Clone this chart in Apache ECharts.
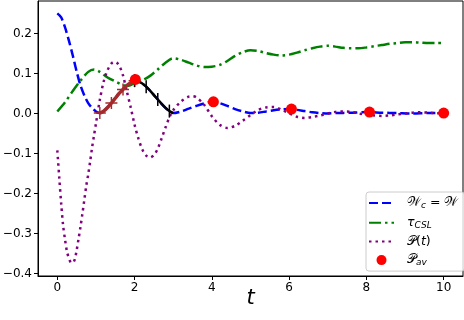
<!DOCTYPE html>
<html>
<head>
<meta charset="utf-8">
<script src="https://cdn.jsdelivr.net/npm/echarts@6/dist/echarts.min.js"></script>
<style>
  html, body { margin: 0; padding: 0; background: #fff; }
  #chart { width: 464px; height: 320px; }
</style>
</head>
<body>
<div id="chart"></div>
<script>
// W_c = W (blue dashed)
var wT = [0, 0.1, 0.2, 0.3, 0.4, 0.5, 0.6, 0.7, 0.8, 0.9, 1.0, 1.1, 1.2, 1.3, 1.4, 1.5, 1.6, 1.7, 1.8, 1.9, 2.0,
  2.1, 2.2, 2.3, 2.4, 2.5, 2.6, 2.7, 2.8, 2.9, 3.0, 3.2, 3.4, 3.6, 3.8, 4.0, 4.2, 4.4, 4.6, 4.8, 5.0,
  5.2, 5.4, 5.6, 5.8, 6.0, 6.2, 6.4, 6.6, 6.8, 7.0, 7.2, 7.6, 8.0, 8.4, 8.8, 9.2, 9.6, 10];
var wY = [0.25, 0.24, 0.215, 0.182, 0.145, 0.105, 0.07, 0.045, 0.026, 0.014, 0.005, 0.001, 0.006, 0.015, 0.026, 0.038, 0.05, 0.06, 0.07, 0.077, 0.082,
  0.08, 0.075, 0.067, 0.057, 0.046, 0.035, 0.024, 0.014, 0.006, 0.001, 0.005, 0.012, 0.019, 0.025, 0.029, 0.026, 0.019, 0.011, 0.005, 0.001,
  0.002, 0.005, 0.008, 0.01, 0.011, 0.009, 0.006, 0.003, 0.001, 0.0, 0.001, 0.002, 0.0035, 0.002, 0.001, 0.0, 0.001, 0.001];

// tau_CSL (green dash-dot)
var tauT = [0, 0.2, 0.4, 0.6, 0.8, 0.95, 1.1, 1.3, 1.5, 1.7, 1.8, 1.9, 2.0, 2.2, 2.4, 2.6, 2.8, 3.0, 3.2, 3.4, 3.6, 3.8, 4.0,
  4.2, 4.4, 4.6, 4.8, 5.0, 5.2, 5.4, 5.6, 5.8, 6.0, 6.2, 6.4, 6.6, 6.8, 7.0, 7.2, 7.4, 7.6, 7.8, 8.0,
  8.2, 8.4, 8.6, 8.8, 9.0, 9.2, 9.4, 9.6, 9.8, 10];
var tauY = [0.005, 0.028, 0.056, 0.082, 0.104, 0.11, 0.104, 0.09, 0.08, 0.071, 0.069, 0.071, 0.076, 0.083, 0.094, 0.11, 0.127, 0.138, 0.134, 0.127, 0.12, 0.116, 0.117,
  0.121, 0.131, 0.144, 0.153, 0.158, 0.156, 0.151, 0.147, 0.145, 0.147, 0.152, 0.158, 0.163, 0.167, 0.169, 0.167, 0.164, 0.163, 0.163, 0.165,
  0.168, 0.171, 0.174, 0.176, 0.178, 0.178, 0.177, 0.176, 0.176, 0.176];

// P(t) (purple dotted)
var pT = [0, 0.05, 0.1, 0.15, 0.2, 0.25, 0.3, 0.35, 0.4, 0.45, 0.5, 0.55, 0.6, 0.65, 0.7, 0.75, 0.8, 0.85, 0.9, 0.95, 1.0,
  1.1, 1.2, 1.3, 1.4, 1.47, 1.55, 1.62, 1.7, 1.8, 1.9, 2.0, 2.1, 2.2, 2.3, 2.4, 2.5, 2.6, 2.7, 2.8, 2.9, 3.0,
  3.2, 3.4, 3.5, 3.6, 3.8, 4.0, 4.2, 4.4, 4.6, 4.8, 5.0, 5.2, 5.4, 5.6, 5.8, 6.0, 6.2, 6.4, 6.6, 6.8, 7.0,
  7.2, 7.4, 7.6, 7.8, 8.0, 8.2, 8.4, 8.6, 8.8, 9.0, 9.2, 9.4, 9.6, 9.8, 10];
var pY = [-0.092, -0.16, -0.225, -0.28, -0.315, -0.345, -0.362, -0.372, -0.373, -0.365, -0.342, -0.313, -0.283, -0.25, -0.215, -0.18, -0.152, -0.12, -0.085, -0.055, -0.025,
  0.034, 0.08, 0.108, 0.125, 0.129, 0.126, 0.116, 0.095, 0.055, 0.015, -0.028, -0.063, -0.09, -0.105, -0.11, -0.104, -0.088, -0.062, -0.035, -0.01, 0.008,
  0.03, 0.042, 0.043, 0.04, 0.022, -0.007, -0.028, -0.036, -0.031, -0.018, -0.004, 0.009, 0.015, 0.016, 0.01, 0.0, -0.008, -0.011, -0.009, -0.005, 0.0,
  0.004, 0.005, 0.004, 0.0, -0.003, -0.005, -0.006, -0.005, -0.002, 0.0, 0.002, 0.003, 0.002, 0.001, 0.0];

// P_av (red dots)
var avT = [2.02, 4.04, 6.06, 8.08, 10.0];
var avY = [0.085, 0.029, 0.011, 0.0035, 0.001];

// highlighted segments on W
var brownT = [1.1, 1.2, 1.3, 1.4, 1.5, 1.6, 1.7, 1.8, 1.9, 2.0];
var brownY = [0.001, 0.006, 0.015, 0.026, 0.038, 0.05, 0.06, 0.07, 0.077, 0.082];
var blackT = [2.0, 2.1, 2.2, 2.3, 2.4, 2.5, 2.6, 2.7, 2.8, 2.9, 3.0];
var blackY = [0.082, 0.08, 0.075, 0.067, 0.057, 0.046, 0.035, 0.024, 0.014, 0.006, 0.001];

var xTicks = [0, 2, 4, 6, 8, 10];
var yTicks = [-0.4, -0.3, -0.2, -0.1, 0.0, 0.1, 0.2];

var plusPath = 'path://M0,4.4h10v1.2h-10z M4.4,0h1.2v10h-1.2z';
var barPath = 'path://M0,0h1v10h-1z';

function pairs(xs, ys) {
  return xs.map(function (x, i) { return [x, ys[i]]; });
}

var legendNames = {
  'W': '{cal|𝒲}{sub|c}{n| = }{cal|𝒲}',
  'tau': '{it|τ}{sub|CSL}',
  'P': '{cal|𝒫}{n|(}{it|t}{n|)}',
  'Pav': '{cal|𝒫}{sub|av}'
};

var chart = echarts.init(document.getElementById('chart'));

var option = {
  animation: false,
  grid: {
    left: 38, right: 1, top: 1, bottom: 44,
    outerBoundsMode: 'none',
    show: true, borderColor: '#000', borderWidth: 1, backgroundColor: 'transparent'
  },
  legend: {
    data: [
      { name: 'W', itemStyle: { opacity: 0 } },
      { name: 'tau', itemStyle: { opacity: 0 } },
      { name: 'P', itemStyle: { opacity: 0 } },
      { name: 'Pav' }
    ],
    orient: 'vertical',
    left: 366,
    top: 192,
    padding: [3.5, 6, 3.5, 2],
    itemWidth: 25,
    itemHeight: 10,
    itemGap: 4.7,
    backgroundColor: 'rgba(255,255,255,0.8)',
    borderColor: '#cccccc',
    borderWidth: 1,
    borderRadius: 3,
    formatter: function (name) { return legendNames[name]; },
    textStyle: {
      padding: [0, 0, 0, 8],
      rich: {
        cal: { fontFamily: 'DejaVu Sans', fontSize: 12.5, lineHeight: 14, color: '#000' },
        it: { fontFamily: 'DejaVu Sans', fontStyle: 'italic', fontSize: 12.5, lineHeight: 14, color: '#000' },
        n: { fontFamily: 'DejaVu Sans', fontSize: 12.5, lineHeight: 14, color: '#000' },
        sub: { fontFamily: 'DejaVu Sans', fontStyle: 'italic', fontSize: 9, lineHeight: 14, padding: [6, 0, 0, 0], color: '#000' }
      }
    }
  },
  xAxis: {
    type: 'value',
    min: -0.5,
    max: 10.5,
    name: 't',
    nameLocation: 'middle',
    nameGap: 12,
    nameMoveOverlap: false,
    nameTextStyle: { fontFamily: 'DejaVu Sans', fontStyle: 'italic', fontSize: 21, color: '#000' },
    axisLine: { show: true, onZero: false, lineStyle: { color: '#000', width: 1 } },
    axisTick: { show: true, length: 4, customValues: xTicks, lineStyle: { color: '#000' } },
    axisLabel: {
      customValues: xTicks, margin: 6,
      fontFamily: 'DejaVu Sans', fontSize: 12, color: '#000',
      formatter: function (v) { return String(v); }
    },
    splitLine: { show: false }
  },
  yAxis: {
    type: 'value',
    min: -0.406,
    max: 0.281,
    axisLine: { show: true, onZero: false, lineStyle: { color: '#000', width: 1 } },
    axisTick: { show: true, length: 4, customValues: yTicks, lineStyle: { color: '#000' } },
    axisLabel: {
      customValues: yTicks, margin: 6,
      fontFamily: 'DejaVu Sans', fontSize: 12, color: '#000',
      formatter: function (v) { return v.toFixed(1).replace('-', '\u2212'); }
    },
    splitLine: { show: false }
  },
  series: [
    {
      name: 'W', type: 'line', symbol: 'none', smooth: 0.3,
      data: pairs(wT, wY),
      lineStyle: { color: '#0000ff', width: 2.5, type: [9, 4] },
      itemStyle: { color: '#0000ff' }, z: 2
    },
    {
      name: 'tau', type: 'line', symbol: 'none', smooth: 0.3,
      data: pairs(tauT, tauY),
      lineStyle: { color: '#008000', width: 2.5, type: [12, 4, 2.5, 4] },
      itemStyle: { color: '#008000' }, z: 2
    },
    {
      name: 'P', type: 'line', symbol: 'none', smooth: 0.3,
      data: pairs(pT, pY),
      lineStyle: { color: '#800080', width: 2.5, type: [2.5, 4] },
      itemStyle: { color: '#800080' }, z: 2
    },
    {
      name: 'brown', type: 'line', smooth: 0.3, showSymbol: true,
      data: brownT.map(function (t, i) {
        return { value: [t, brownY[i]], symbol: i % 3 === 0 ? plusPath : 'none' };
      }),
      symbolSize: 12,
      lineStyle: { color: '#a52a2a', width: 3.5 },
      itemStyle: { color: '#a52a2a' }, z: 3
    },
    {
      name: 'black', type: 'line', smooth: 0.3, showSymbol: true,
      data: blackT.map(function (t, i) {
        return { value: [t, blackY[i]], symbol: i % 3 === 0 ? barPath : 'none' };
      }),
      symbolSize: [1.5, 13],
      lineStyle: { color: '#000', width: 2.5 },
      itemStyle: { color: '#000' }, z: 3
    },
    {
      name: 'Pav', type: 'scatter', symbol: 'circle', symbolSize: 11,
      data: pairs(avT, avY),
      itemStyle: { color: '#ff0000', opacity: 1 }, z: 4
    }
  ]
};

chart.setOption(option);
</script>
</body>
</html>
